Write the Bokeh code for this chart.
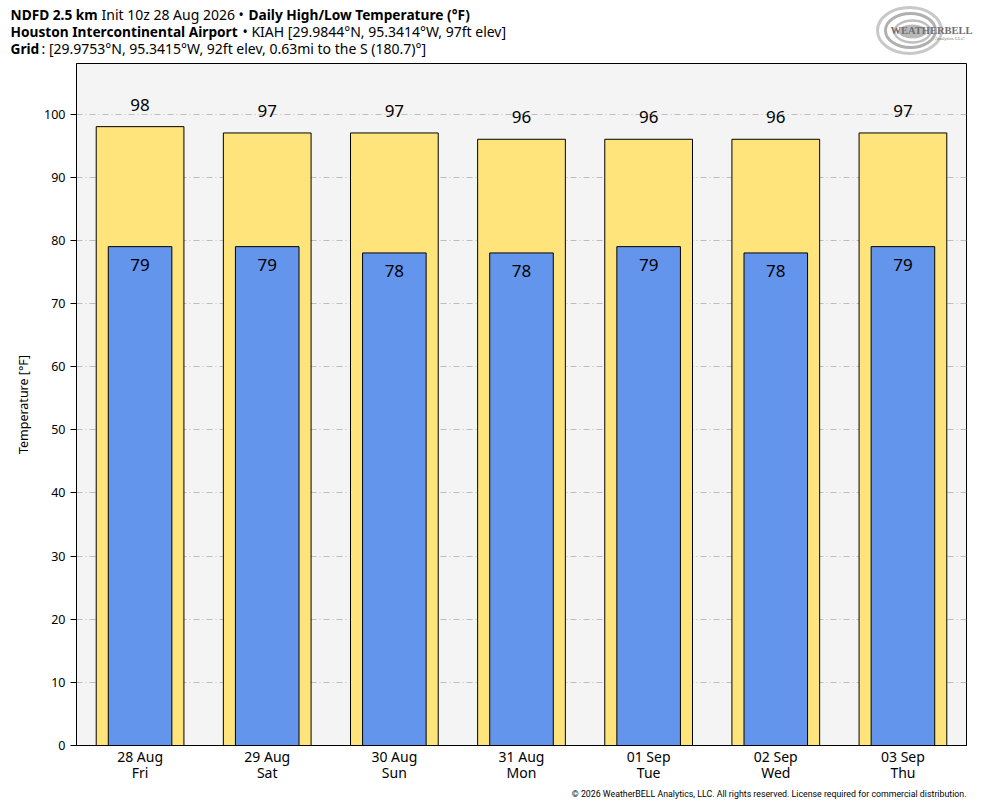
from bokeh.plotting import figure
from bokeh.layouts import column
from bokeh.models import Range1d, FixedTicker, ColumnDataSource, LinearAxis
from bokeh.embed import file_html
from bokeh.resources import INLINE
from bokeh.core.properties import value

dates = ["28 Aug", "29 Aug", "30 Aug", "31 Aug", "01 Sep", "02 Sep", "03 Sep"]
days = ["Fri", "Sat", "Sun", "Mon", "Tue", "Wed", "Thu"]
highs = [98, 97, 97, 96, 96, 96, 97]
lows = [79, 79, 78, 78, 79, 78, 79]
y_ticks = [0, 10, 20, 30, 40, 50, 60, 70, 80, 90, 100]

FONT = "Noto Sans"
W = 976


def blank(h):
    f = figure(width=W, height=h, output_backend="svg", toolbar_location=None,
               x_range=Range1d(0, W), y_range=Range1d(h, 0),
               x_axis_type=None, y_axis_type=None,
               min_border=0, min_border_left=0, min_border_right=0,
               min_border_top=0, min_border_bottom=0)
    f.outline_line_color = None
    f.background_fill_color = "white"
    f.border_fill_color = "white"
    f.xgrid.grid_line_color = None
    f.ygrid.grid_line_color = None
    return f


# ---------------- header ----------------
hdr = blank(58)
bold_seg = dict(x=[10, 248, 10, 10],
                y=[14, 14, 31, 48],
                t=["NDFD 2.5 km", "Daily High/Low Temperature (°F)",
                   "Houston Intercontinental Airport", "Grid"])
norm_seg = dict(x=[101, 242, 41],
                y=[14, 31, 48],
                t=["Init 10z 28 Aug 2026 \u2022", "\u2022 KIAH [29.9844°N, 95.3414°W, 97ft elev]",
                   ": [29.9753°N, 95.3415°W, 92ft elev, 0.63mi to the S (180.7)°]"])
hdr.text(x="x", y="y", text="t", source=ColumnDataSource(bold_seg),
         text_font=value(FONT), text_font_size="13.7px", text_font_style="bold",
         text_baseline="middle", text_align="left", text_color="black")
hdr.text(x="x", y="y", text="t", source=ColumnDataSource(norm_seg),
         text_font=value(FONT), text_font_size="14px", text_font_style="normal",
         text_baseline="middle", text_align="left", text_color="black")

# logo (swirl + text)
hdr.ellipse(x=[909, 910, 912], y=[30, 30, 31], width=[64, 50, 36], height=[46, 34, 22],
            fill_color=None, line_color=["#c8c8c8", "#b0b0b0", "#c0c0c0"], line_width=[3, 3, 2.5])
hdr.ellipse(x=[912], y=[31], width=[28], height=[14], fill_color="#a8a8a8",
            line_color=None, fill_alpha=0.8)
hdr.text(x=[931], y=[30], text=["WEATHERBELL"], text_font=value("Liberation Serif"),
         text_font_size="10.5px", text_font_style="bold", text_color="#6f6f6f",
         text_align="center", text_baseline="middle")
hdr.text(x=[964], y=[38], text=["Analytics LLC"], text_font=value("Liberation Serif"),
         text_font_size="5px", text_color="#808080",
         text_align="right", text_baseline="middle")

# ---------------- main chart ----------------
xs = [i + 0.5 for i in range(len(dates))]
src = ColumnDataSource(dict(x=xs, high=highs, low=lows,
                            hl=[str(v) for v in highs], ll=[str(v) for v in lows]))

p = figure(width=W, height=726, output_backend="svg", toolbar_location=None,
           x_range=Range1d(0, 7), y_range=Range1d(0, 108),
           min_border_left=76, min_border_right=10, min_border_top=5, min_border_bottom=30)
p.background_fill_color = "#f4f4f4"
p.border_fill_color = "white"
p.outline_line_color = "black"
p.outline_line_width = 1

p.vbar(x="x", top="high", bottom=0, width=0.69, source=src,
       fill_color="#ffe47b", line_color="black", line_width=1)
p.vbar(x="x", top="low", bottom=0, width=0.5, source=src,
       fill_color="#6495ed", line_color="black", line_width=1)
p.text(x="x", y="high", text="hl", source=src, y_offset=-22,
       text_align="center", text_baseline="middle",
       text_font=value(FONT), text_font_size="17px", text_color="black")
p.text(x="x", y="low", text="ll", source=src, y_offset=18,
       text_align="center", text_baseline="middle",
       text_font=value(FONT), text_font_size="17px", text_color="black")

p.xgrid.grid_line_color = None
p.ygrid.grid_line_color = "#bdbdbd"
p.ygrid.grid_line_dash = "6 3 1 3"
p.ygrid.grid_line_width = 1

xa = p.below[0]
xa.ticker = FixedTicker(ticks=xs)
xa.major_label_overrides = {x: d for x, d in zip(xs, dates)}
xa.major_tick_line_color = None
xa.minor_tick_line_color = None
xa.major_tick_out = 0
xa.major_tick_in = 0
xa.major_label_standoff = 1
xa.axis_line_color = "black"
xa.major_label_text_font = FONT
xa.major_label_text_font_size = "14px"
xa.major_label_text_color = "black"

da = LinearAxis(ticker=FixedTicker(ticks=xs),
                major_label_overrides={x: d for x, d in zip(xs, days)},
                axis_line_color=None, major_tick_line_color=None,
                minor_tick_line_color=None, major_tick_out=0, major_tick_in=0,
                major_label_standoff=-6, major_label_text_font=FONT,
                major_label_text_font_size="14px", major_label_text_color="black")
p.add_layout(da, "below")

ya = p.left[0]
ya.ticker = FixedTicker(ticks=y_ticks)
ya.minor_tick_line_color = None
ya.major_tick_out = 6
ya.major_tick_in = 0
ya.axis_line_color = "black"
ya.major_label_text_font = FONT
ya.major_label_text_font_size = "12.5px"
ya.major_label_text_color = "black"
ya.axis_label = "Temperature [°F]"
ya.axis_label_text_font = FONT
ya.axis_label_text_font_size = "12.5px"
ya.axis_label_text_font_style = "normal"
ya.axis_label_text_color = "black"
ya.axis_label_standoff = 9

# ---------------- footer ----------------
ftr = blank(16)
ftr.text(x=[966], y=[9], text=["© 2026 WeatherBELL Analytics, LLC. All rights reserved. License required for commercial distribution."],
         text_font=value("Roboto"), text_font_size="8.8px",
         text_color="black", text_align="right", text_baseline="middle")

layout = column(column(hdr), p, column(ftr), spacing=0)
open("out.html", "w").write(file_html(layout, INLINE))
